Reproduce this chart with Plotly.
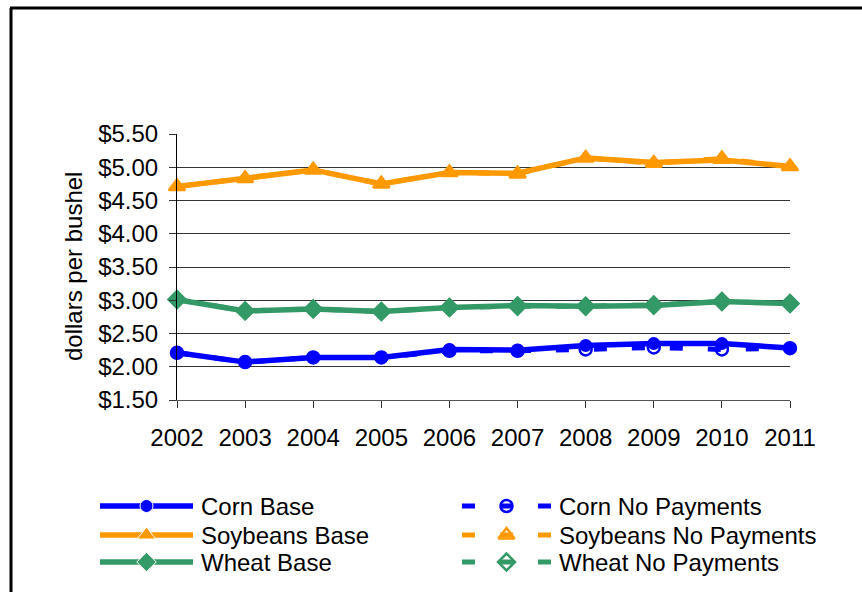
import plotly.graph_objects as go

W, H = 862, 592

years = [2002, 2003, 2004, 2005, 2006, 2007, 2008, 2009, 2010, 2011]
corn_base = [2.21, 2.07, 2.14, 2.14, 2.26, 2.25, 2.32, 2.35, 2.35, 2.28]
corn_np = [2.21, 2.07, 2.14, 2.14, 2.24, 2.24, 2.26, 2.29, 2.26, 2.28]
soy_base = [4.71, 4.84, 4.96, 4.75, 4.92, 4.91, 5.14, 5.07, 5.11, 5.01]
soy_np = [4.71, 4.83, 4.96, 4.75, 4.92, 4.90, 5.14, 5.06, 5.13, 5.01]
wheat_base = [3.01, 2.84, 2.87, 2.83, 2.89, 2.92, 2.91, 2.92, 2.98, 2.95]
wheat_np = [3.01, 2.84, 2.87, 2.83, 2.89, 2.91, 2.91, 2.93, 2.98, 2.95]

series_names = ["Corn Base", "Soybeans Base", "Wheat Base",
                "Corn No Payments", "Soybeans No Payments", "Wheat No Payments"]
y_ticks = [1.5, 2.0, 2.5, 3.0, 3.5, 4.0, 4.5, 5.0, 5.5]

BLUE, ORANGE, GREEN = "#0000FF", "#FF9900", "#339966"
FONT = "Liberation Sans, Arial, sans-serif"
FS = 24
DASH = "13px,25px"

base_series = [
    (series_names[0], corn_base, BLUE, "circle", 13),
    (series_names[1], soy_base, ORANGE, "triangle-up", 16),
    (series_names[2], wheat_base, GREEN, "diamond", 15),
]
np_series = [
    (series_names[3], corn_np, BLUE, "circle-open", 12),
    (series_names[4], soy_np, ORANGE, "triangle-up-open", 14),
    (series_names[5], wheat_np, GREEN, "diamond-open", 13),
]

fig = go.Figure()

for name, vals, col, sym, sz in base_series:
    fig.add_trace(go.Scatter(
        x=years, y=vals, name=name, mode="lines+markers",
        line=dict(color=col, width=5.5),
        marker=dict(symbol=sym, size=sz, color=col),
        cliponaxis=False, showlegend=False))

for name, vals, col, sym, sz in np_series:
    fig.add_trace(go.Scatter(
        x=years, y=vals, name=name, mode="lines+markers",
        line=dict(color=col, width=5, dash=DASH),
        marker=dict(symbol=sym, size=sz, color=col, line=dict(width=2.5, color=col)),
        cliponaxis=False, showlegend=False))

# ---- custom legend drawn on a hidden pixel-unit helper axis ----
leg_rows = [506, 535, 562]
left_x = (100, 193, 199)
right_x = (462, 551, 557)
annotations = []
for i, (name, vals, col, sym, sz) in enumerate(base_series):
    y = leg_rows[i]
    fig.add_trace(go.Scatter(
        x=[left_x[0], (left_x[0] + left_x[1]) / 2, left_x[1]], y=[y, y, y],
        mode="lines+markers", xaxis="x2", yaxis="y2",
        line=dict(color=col, width=5.5),
        marker=dict(symbol=sym, size=[0, sz, 0], color=col, opacity=1),
        showlegend=False, hoverinfo="skip", cliponaxis=False))
    annotations.append(dict(x=left_x[2], y=y, xref="x2", yref="y2", text=name,
                            showarrow=False, xanchor="left", yanchor="middle",
                            font=dict(family=FONT, size=FS, color="black")))
for i, (name, vals, col, sym, sz) in enumerate(np_series):
    y = leg_rows[i]
    fig.add_trace(go.Scatter(
        x=[right_x[0], (right_x[0] + right_x[1]) / 2, right_x[1]], y=[y, y, y],
        mode="lines+markers", xaxis="x2", yaxis="y2",
        line=dict(color=col, width=5, dash=DASH),
        marker=dict(symbol=sym, size=[0, sz, 0], color=col, opacity=1,
                    line=dict(width=2.5, color=col)),
        showlegend=False, hoverinfo="skip", cliponaxis=False))
    annotations.append(dict(x=right_x[2], y=y, xref="x2", yref="y2", text=name,
                            showarrow=False, xanchor="left", yanchor="middle",
                            font=dict(family=FONT, size=FS, color="black")))

annotations.append(dict(x=73, y=267, xref="x2", yref="y2", text="dollars per bushel",
                        textangle=-90, showarrow=False, xanchor="center", yanchor="middle",
                        font=dict(family=FONT, size=FS, color="black")))

shapes = [
    dict(type="line", xref="x2", yref="y2", x0=10, x1=W, y0=8, y1=8,
         line=dict(color="black", width=3)),
    dict(type="line", xref="x2", yref="y2", x0=11, x1=11, y0=8, y1=H,
         line=dict(color="black", width=3)),
]

fig.update_layout(
    width=W, height=H,
    margin=dict(l=0, r=0, t=0, b=0),
    paper_bgcolor="white", plot_bgcolor="rgba(0,0,0,0)",
    font=dict(family=FONT, size=FS, color="black"),
    xaxis=dict(domain=[177 / W, 790 / W], range=[2002, 2011], tickmode="array",
               tickvals=years, ticktext=[str(y) for y in years],
               showgrid=False, zeroline=False, showline=True, linecolor="#555555",
               linewidth=1, ticks="outside", ticklen=7, tickcolor="#333333",
               ticklabelstandoff=9,
               tickfont=dict(family=FONT, size=FS, color="black"), automargin=False),
    yaxis=dict(domain=[1 - 400 / H, 1 - 134 / H], range=[1.5, 5.5], tickmode="array",
               tickvals=y_ticks, ticktext=["$%.2f" % v for v in y_ticks],
               showgrid=True, gridcolor="#333333", gridwidth=1, zeroline=False,
               showline=True, linecolor="black", linewidth=1, ticks="outside",
               ticklen=7, tickcolor="#333333", ticklabelstandoff=6,
               tickfont=dict(family=FONT, size=FS, color="black"), automargin=False),
    xaxis2=dict(domain=[0, 1], range=[0, W], visible=False, anchor="y2"),
    yaxis2=dict(domain=[0, 1], range=[H, 0], visible=False, anchor="x2"),
    annotations=annotations,
    shapes=shapes,
    showlegend=False,
)

fig.write_html("out.html")
